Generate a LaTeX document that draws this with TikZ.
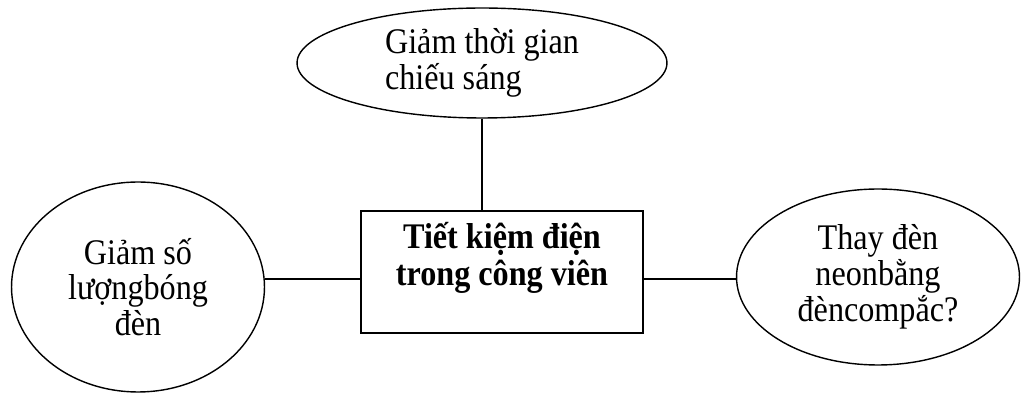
\documentclass[tikz,border=0pt]{standalone}
\usepackage{fontspec}
\setmainfont[FakeStretch=0.893]{Liberation Serif}
\usepackage{tikz}
\usetikzlibrary{shapes.geometric, positioning}

\tikzset{
    idea/.style={draw, thick, ellipse, inner sep=0pt, align=center,
        font=\fontsize{20.5}{20.4}\selectfont},
    mainbox/.style={draw, thick, rectangle, inner sep=0pt, align=center,
        minimum width=5.64cm, minimum height=2.44cm,
        font=\fontsize{20.5}{20.8}\selectfont\bfseries}
}

\begin{document}
\begin{tikzpicture}[x=0.02cm, y=-0.02cm]
                  \useasboundingbox (0,0) rectangle (1021,394);

                  % central box
                  \node[mainbox] (tietkiem) at (502,272) {Tiết kiệm điện\\trong công viên\\~};

                  % ideas around it
                  \node[idea, align=left, minimum width=7.4cm, minimum height=2.2cm] (thoigian) at (482,63) {Giảm thời gian\\chiếu sáng};
                  \node[idea, minimum width=5.06cm, minimum height=4.2cm] (soluong) at (138,287) {Giảm số\\lượngbóng\\đèn};
                  \node[idea, minimum width=5.66cm, minimum height=3.52cm] (thayden) at (878,277) {Thay đèn\\neonbằng\\đèncompắc?};

                  % draw connectors
                  \coordinate (axis) at (0,279);
                  \draw[thick] (thoigian.south) -- (thoigian.south |- tietkiem.north);
                  \draw[thick] (soluong.east |- axis) -- (tietkiem.west |- axis);
                  \draw[thick] (tietkiem.east |- axis) -- (thayden.west |- axis);

              \end{tikzpicture}
\end{document}
